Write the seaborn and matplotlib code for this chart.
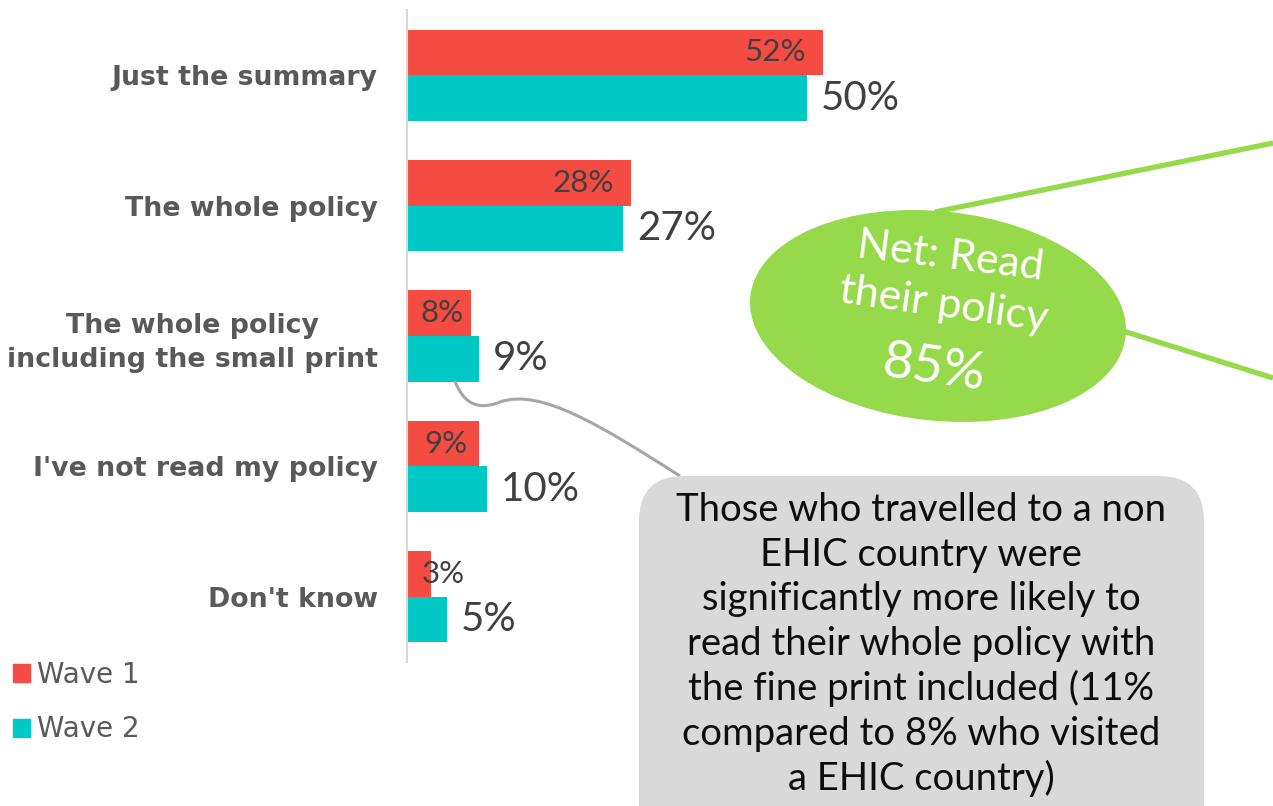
import matplotlib
matplotlib.use("Agg")
import matplotlib.pyplot as plt
import seaborn as sns
import pandas as pd
from matplotlib.patches import Ellipse, FancyBboxPatch, Patch, PathPatch
from matplotlib.path import Path

categories = ["Just the summary", "The whole policy",
              "The whole policy\nincluding the small print",
              "I've not read my policy", "Don't know"]
wave1 = [52, 28, 8, 9, 3]
wave2 = [50, 27, 9, 10, 5]
waves = ["Wave 1", "Wave 2"]

callout_lines = ["Those who travelled to a non", "EHIC country were",
                 "significantly more likely to", "read their whole policy with",
                 "the fine print included (11%", "compared to 8% who visited",
                 "a EHIC country)"]

RED = "#F44B42"
TEAL = "#00C8C5"
GREEN = "#96D94B"

df = pd.concat([
    pd.DataFrame({"Class": categories, "Pct": wave1, "Wave": waves[0]}),
    pd.DataFrame({"Class": categories, "Pct": wave2, "Wave": waves[1]}),
])

W, H = 1273, 806
fig = plt.figure(figsize=(W / 100, H / 100), dpi=100)
ax = fig.add_axes([407 / W, (H - 662) / H, 866 / W, 652 / H])

sns.barplot(data=df, x="Pct", y="Class", hue="Wave", order=categories,
            palette=[RED, TEAL], orient="h", width=0.7, saturation=1,
            gap=0, legend=False, ax=ax)

ax.set_xlim(0, 108.25)
ax.set_ylim(4.5, -0.5)
ax.set_xlabel("")
ax.set_ylabel("")
ax.set_xticks([])
for s in ["top", "right", "bottom"]:
    ax.spines[s].set_visible(False)
ax.spines["left"].set_color("#D9D9D9")
ax.spines["left"].set_linewidth(1.5)
ax.tick_params(axis="y", length=0, pad=21)
for lab in ax.get_yticklabels():
    lab.set_fontfamily("DejaVu Sans")
    lab.set_fontweight("bold")
    lab.set_fontsize(19.3)
    lab.set_color("#595959")
    lab.set_multialignment("center")
    lab.set_linespacing(1.4)
ax.set_facecolor("none")

# value labels
red_bars, teal_bars = ax.containers[0], ax.containers[1]
for bar, v in zip(red_bars, wave1):
    yc = bar.get_y() + bar.get_height() / 2
    if v < 5:
        x, ha = v - 1.1, "left"
    elif v < 15:
        x, ha = v / 2 + 0.4, "center"
    else:
        x, ha = v - 2.1, "right"
    ax.text(x, yc, f"{v}%", ha=ha, va="center",
            fontsize=22.5, family="Lato", color="#404040")
ax.bar_label(teal_bars, labels=[f"{v}%" for v in wave2], padding=10,
             fontsize=29, family="Lato", color="#404040")

# legend
handles = [Patch(color=RED), Patch(color=TEAL)]
fig.legend(handles, waves, loc="upper left", bbox_to_anchor=(13 / W, 1 - 661 / H),
           frameon=False, handlelength=0.62, handleheight=0.62,
           handletextpad=0.25, labelspacing=0.95, borderpad=0, borderaxespad=0,
           labelcolor="#595959", prop={"family": "DejaVu Sans", "size": 20})

# annotation overlay in pixel coordinates
ov = fig.add_axes([0, 0, 1, 1])
ov.set_xlim(0, W)
ov.set_ylim(H, 0)
ov.axis("off")
ov.set_facecolor("none")

ov.plot([935, 1273], [212, 143], color=GREEN, lw=3.8, solid_capstyle="butt")
ov.plot([1120, 1273], [330, 378], color=GREEN, lw=3.8, solid_capstyle="butt")
ov.add_patch(Ellipse((938, 316), 376, 208, angle=6, color=GREEN, zorder=3))
ov.text(950, 257, "Net: Read", rotation=-7, ha="center", va="center",
        fontsize=31, family="Lato", color="white", zorder=4,
        rotation_mode="anchor")
ov.text(944, 305, "their policy", rotation=-8, ha="center", va="center",
        fontsize=31, family="Lato", color="white", zorder=4,
        rotation_mode="anchor")
ov.text(934, 369, "85%", rotation=-8, ha="center", va="center",
        fontsize=38, family="Lato", color="white", zorder=4,
        rotation_mode="anchor")

# connector to callout
verts = [(455, 381), (462, 400), (475, 412), (500, 402),
         (540, 388), (600, 425), (680, 476)]
codes = [Path.MOVETO] + [Path.CURVE4] * 6
ov.add_patch(PathPatch(Path(verts, codes), facecolor="none",
                       edgecolor="#A6A6A6", lw=2.2, zorder=2))

ov.add_patch(FancyBboxPatch((639, 476), 565, 380,
                            boxstyle="round,pad=0,rounding_size=45",
                            facecolor="#D9D9D9", edgecolor="none", zorder=3))
for i, line in enumerate(callout_lines):
    ov.text(921, 510 + i * 44.7, line, ha="center", va="center",
            fontsize=27.5, family="Lato", color="#0D0D0D", zorder=4)

fig.savefig("out.png", dpi=100)
